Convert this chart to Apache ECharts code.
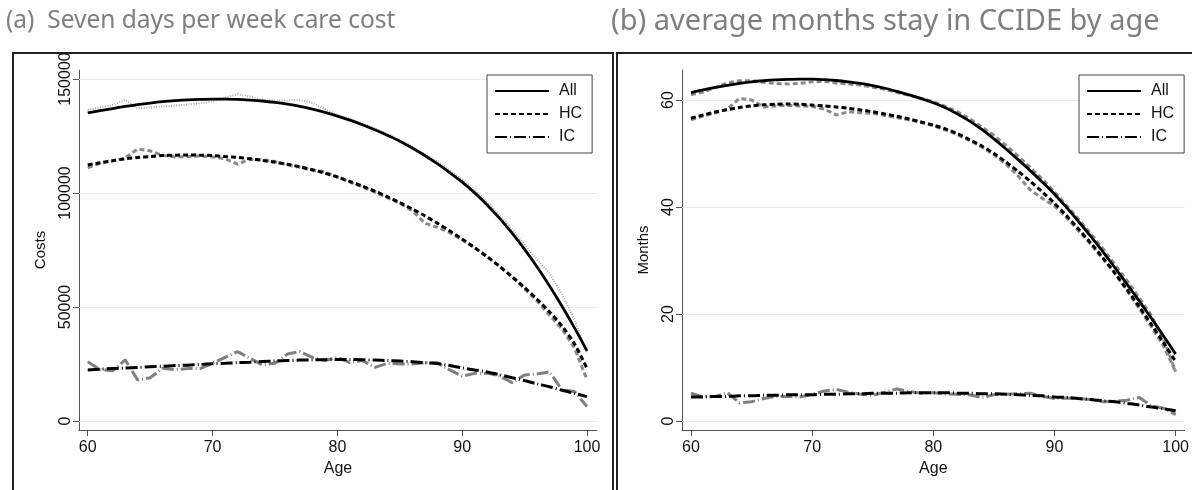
<!DOCTYPE html>
<html>
<head>
<meta charset="utf-8">
<script src="https://cdn.jsdelivr.net/npm/echarts@6/dist/echarts.min.js"></script>
<style>
  html, body { margin: 0; padding: 0; background: #fff; }
  #chart { width: 1192px; height: 490px; }
</style>
</head>
<body>
<div id="chart"></div>
<script>
// ages on the x axis
var ages = [60, 61, 62, 63, 64, 65, 66, 67, 68, 69, 70, 71, 72, 73, 74, 75, 76, 77, 78, 79, 80,
  81, 82, 83, 84, 85, 86, 87, 88, 89, 90, 91, 92, 93, 94, 95, 96, 97, 98, 99, 100];
var xTicks = [60, 70, 80, 90, 100];
var costTicks = [0, 50000, 100000, 150000];
var monthTicks = [0, 20, 40, 60];
var legendNames = ['All', 'HC', 'IC'];

// (a) costs - fitted
var costAllFit = [135100, 136100, 137050, 137950, 138750, 139450, 140050, 140500, 140850, 141050, 141150,
  141150, 141050, 140750, 140350, 139750, 138950, 137950, 136750, 135350, 133750,
  131950, 129950, 127750, 125350, 122750, 119750, 116450, 112850, 108950, 104750,
  100050, 94750, 88850, 82350, 75250, 67550, 59250, 50350, 40850, 30750];
var costHCFit = [112300, 113300, 114200, 115000, 115600, 116000, 116400, 116600, 116700, 116600, 116400,
  116000, 115600, 115000, 114300, 113500, 112600, 111500, 110200, 108700, 107000,
  105100, 103000, 100800, 98400, 95800, 93000, 90000, 86800, 83400, 79800,
  76000, 72000, 67800, 63300, 58500, 53400, 47800, 41600, 33800, 23000];
var costICFit = [22400, 22700, 23000, 23200, 23500, 23800, 24000, 24300, 24500, 24800, 25100,
  25300, 25600, 25800, 26100, 26300, 26500, 26700, 26800, 26900, 27000,
  27000, 26900, 26700, 26500, 26300, 26000, 25600, 25200, 24300, 23300,
  22400, 21500, 20300, 19000, 17700, 16300, 15000, 13500, 12100, 10700];
// (a) costs - observed
var costAllRaw = [136400, 137500, 138600, 140800, 137100, 137500, 137900, 138300, 138800, 139300, 140200,
  141800, 143300, 142300, 140800, 140500, 140600, 140700, 139600, 136800, 134300,
  132500, 130500, 128300, 126000, 123300, 120300, 117200, 113800, 110000, 106000,
  101300, 96000, 90300, 84000, 77300, 70800, 64800, 55500, 44500, 29800];
var costHCRaw = [111000, 113000, 114000, 115400, 119300, 118500, 116500, 115800, 116000, 116200, 115800,
  115000, 112700, 114800, 114600, 113800, 112300, 111300, 110000, 109300, 107000,
  104800, 102700, 100400, 98000, 95500, 92200, 86800, 85000, 82600, 79400,
  76000, 72200, 67700, 63200, 58000, 52600, 46400, 40300, 32000, 18000];
var costICRaw = [26000, 22500, 22000, 26800, 18000, 19000, 23100, 22500, 23000, 23000, 25300,
  27900, 30400, 27500, 24600, 25300, 29400, 30400, 27900, 26500, 27900,
  25600, 26500, 23500, 25300, 25000, 25000, 25600, 25500, 22400, 19700,
  20900, 21000, 19700, 16800, 20200, 20600, 21600, 13600, 12900, 6300];

// (b) months - fitted
var monAllFit = [61.4, 61.9, 62.35, 62.75, 63.1, 63.4, 63.6, 63.75, 63.85, 63.9, 63.9,
  63.8, 63.65, 63.4, 63.1, 62.7, 62.2, 61.6, 60.95, 60.25, 59.5,
  58.55, 57.4, 56.05, 54.5, 52.75, 50.85, 48.85, 46.8, 44.65, 42.4,
  39.9, 37.25, 34.5, 31.6, 28.6, 25.55, 22.4, 19.2, 15.9, 12.5];
var monHCFit = [56.6, 57.2, 57.75, 58.2, 58.6, 58.9, 59.1, 59.2, 59.25, 59.2, 59.05,
  58.9, 58.7, 58.45, 58.15, 57.8, 57.4, 56.95, 56.45, 55.9, 55.3,
  54.6, 53.7, 52.6, 51.4, 50.0, 48.4, 46.65, 44.8, 42.8, 40.7,
  38.35, 35.85, 33.25, 30.5, 27.6, 24.55, 21.35, 18.05, 14.65, 11.1];
var monICFit = [4.5, 4.5, 4.6, 4.6, 4.7, 4.7, 4.8, 4.8, 4.9, 4.9, 4.9,
  5.0, 5.0, 5.1, 5.1, 5.2, 5.2, 5.2, 5.3, 5.3, 5.3,
  5.3, 5.2, 5.2, 5.1, 5.1, 5.0, 4.9, 4.8, 4.7, 4.5,
  4.4, 4.2, 4.0, 3.8, 3.6, 3.3, 3.0, 2.6, 2.3, 1.9];
// (b) months - observed
var monAllRaw = [61.0, 61.5, 62.3, 63.2, 63.6, 63.6, 63.3, 63.1, 63.0, 63.1, 63.4,
  63.5, 63.2, 63.0, 62.8, 62.4, 62.0, 61.4, 60.9, 60.3, 59.7,
  58.8, 57.8, 56.5, 55.0, 53.4, 51.5, 49.5, 47.4, 45.2, 42.8,
  40.3, 37.7, 35.0, 32.2, 29.2, 26.2, 23.0, 19.7, 15.3, 9.2];
var monHCRaw = [56.3, 57.0, 57.6, 58.3, 60.3, 60.0, 58.7, 58.9, 59.0, 58.9, 58.8,
  58.3, 57.2, 57.8, 57.6, 57.5, 57.1, 56.7, 56.3, 55.8, 55.2,
  54.4, 53.5, 52.4, 51.2, 49.8, 48.0, 45.8, 43.2, 41.6, 40.2,
  38.0, 35.5, 33.0, 30.3, 27.5, 24.3, 21.0, 17.6, 14.0, 9.2];
var monICRaw = [5.2, 4.5, 4.6, 5.3, 3.4, 3.6, 4.2, 4.6, 4.6, 4.5, 5.0,
  5.6, 5.9, 5.4, 5.0, 4.8, 5.4, 6.0, 5.5, 5.2, 5.3,
  5.1, 5.0, 4.9, 4.4, 4.9, 5.0, 5.1, 5.2, 4.6, 4.2,
  4.3, 4.2, 4.0, 3.6, 3.7, 3.9, 4.4, 2.8, 2.4, 1.2];

function pairs(vals) {
  return ages.map(function (a, i) { return [a, vals[i]]; });
}

var axisCol = '#555';
var gridCol = '#e4eded';
var txtFont = 'Liberation Sans';

function xAx(idx, min, max) {
  return {
    type: 'value', gridIndex: idx, min: min, max: max,
    name: 'Age', nameLocation: 'middle', nameGap: 30,
    nameTextStyle: { fontSize: 16, color: '#111', fontFamily: txtFont },
    axisLine: { onZero: false, lineStyle: { color: axisCol, width: 1 } },
    axisTick: { show: true, length: 6, customValues: xTicks, lineStyle: { color: axisCol } },
    axisLabel: { customValues: xTicks, fontSize: 16, color: '#111', fontFamily: txtFont, margin: 10 },
    splitLine: { show: false }
  };
}

function yAx(idx, min, max, ticks, name) {
  return {
    type: 'value', gridIndex: idx, min: min, max: max,
    name: name, nameLocation: 'middle', nameGap: 31,
    nameTextStyle: { fontSize: 15, color: '#111', fontFamily: txtFont },
    axisLine: { show: true, onZero: false, lineStyle: { color: axisCol, width: 1 } },
    axisTick: { show: true, length: 6, customValues: ticks, lineStyle: { color: axisCol } },
    axisLabel: { customValues: ticks, rotate: 90, fontSize: 16, color: '#111', fontFamily: txtFont, margin: 5,
      formatter: function (v) { return String(v); } },
    splitLine: { show: false }
  };
}

function gridLines(ticks) {
  return {
    silent: true, symbol: 'none', z: 1,
    label: { show: false },
    lineStyle: { color: gridCol, type: 'solid', width: 1 },
    data: ticks.map(function (t) { return { yAxis: t }; })
  };
}

function line(name, vals, idx, style, z, smooth) {
  return {
    name: name, type: 'line', xAxisIndex: idx, yAxisIndex: idx,
    data: pairs(vals), showSymbol: false, symbol: 'none', smooth: smooth || false,
    itemStyle: { color: style.color }, lineStyle: style, z: z, silent: true, animation: false
  };
}

var allRawStyle = { color: '#aaa', width: 2, type: [1, 1.5] };
var grayDash = { color: '#8a8a8a', width: 3, type: [5, 3] };
var grayLongDash = { color: '#808080', width: 3, type: [12, 3, 1, 3] };
var allStyle = { color: '#000', width: 2.8, type: 'solid' };
var hcStyle = { color: '#000', width: 3, type: [5, 3] };
var icStyle = { color: '#000', width: 3, type: [12, 3, 1, 3] };

var s0 = line('All raw', costAllRaw, 0, allRawStyle, 2);
s0.markLine = gridLines(costTicks);
var s1 = line('All raw', monAllRaw, 1, grayDash, 2);
s1.markLine = gridLines(monthTicks);

function legendAt(left) {
  return {
    data: legendNames, orient: 'vertical', left: left, top: 75, itemWidth: 54, itemHeight: 18, itemGap: 7,
    padding: [8, 10, 8, 7], borderColor: '#444', borderWidth: 1, backgroundColor: '#fff',
    itemStyle: { opacity: 0 },
    textStyle: { fontSize: 16, color: '#111', fontFamily: txtFont, padding: [0, 0, 0, 5] }, selectedMode: false
  };
}

var chart = echarts.init(document.getElementById('chart'));
chart.setOption({
  animation: false,
  backgroundColor: '#fff',
  title: [
    { text: '(a)  Seven days per week care cost', left: 6, top: 9, padding: 0,
      textStyle: { fontSize: 24.5, color: '#7f7f7f', fontWeight: 'normal', fontFamily: 'Noto Sans' } },
    { text: '(b) average months stay in CCIDE by age', left: 611, top: 7, padding: 0,
      textStyle: { fontSize: 29, color: '#7f7f7f', fontWeight: 'normal', fontFamily: 'Noto Sans' } }
  ],
  legend: [legendAt(487), legendAt(1079)],
  grid: [
    { left: 79, top: 70, width: 518, height: 360 },
    { left: 682, top: 70, width: 506, height: 360 }
  ],
  xAxis: [xAx(0, 59.3, 100.8), xAx(1, 59.26, 100.74)],
  yAxis: [yAx(0, -3950, 153950, costTicks, 'Costs'), yAx(1, -1.68, 65.61, monthTicks, 'Months')],
  graphic: [
    { type: 'rect', shape: { x: 13, y: 53, width: 600, height: 480 },
      style: { fill: 'none', stroke: '#222', lineWidth: 2 }, silent: true },
    { type: 'rect', shape: { x: 617, y: 53, width: 600, height: 480 },
      style: { fill: 'none', stroke: '#222', lineWidth: 2 }, silent: true }
  ],
  series: [
    s0,
    line('HC raw', costHCRaw, 0, grayDash, 2),
    line('IC raw', costICRaw, 0, grayLongDash, 2),
    line('All', costAllFit, 0, allStyle, 3, 0.3),
    line('HC', costHCFit, 0, hcStyle, 3, 0.3),
    line('IC', costICFit, 0, icStyle, 3, 0.3),
    s1,
    line('HC raw', monHCRaw, 1, grayDash, 2),
    line('IC raw', monICRaw, 1, grayLongDash, 2),
    line('All', monAllFit, 1, allStyle, 3, 0.3),
    line('HC', monHCFit, 1, hcStyle, 3, 0.3),
    line('IC', monICFit, 1, icStyle, 3, 0.3)
  ]
});
</script>
</body>
</html>
